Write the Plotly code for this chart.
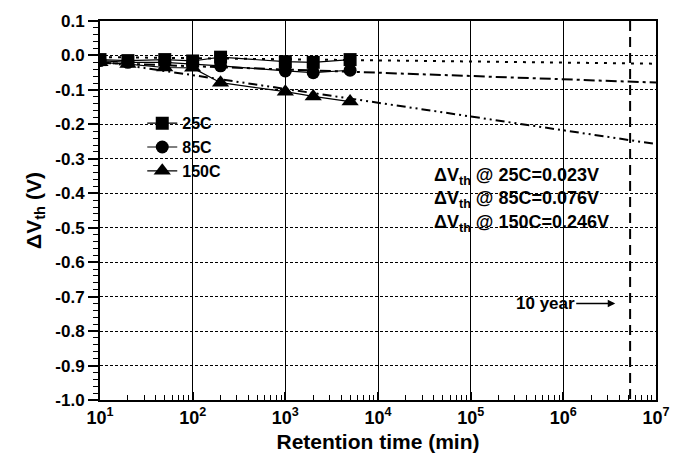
import numpy as np
import plotly.graph_objects as go

# Retention measurements
time_min = [10, 20, 50, 100, 200, 1000, 2000, 5000]
dvth_25c = [-0.012, -0.015, -0.012, -0.016, -0.005, -0.018, -0.020, -0.012]
dvth_85c = [-0.015, -0.020, -0.020, -0.025, -0.030, -0.045, -0.050, -0.043]
dvth_150c = [-0.020, -0.025, -0.035, -0.036, -0.079, -0.105, -0.119, -0.134]

series_names = ["25C", "85C", "150C"]
series_values = [dvth_25c, dvth_85c, dvth_150c]
marker_symbols = ["square", "circle", "triangle-up"]
marker_sizes = [13, 13, 15]

# Extrapolated shift at ten years and slope per decade of the fitted lines
ten_year_min = 10 * 365 * 24 * 60
shift_10yr = [-0.023, -0.076, -0.246]
slope_per_decade = [-0.0032, -0.0095, -0.040]
fit_dashes = ["3px,6px", "11px,4px,3px,4px", "9px,4px,2px,4px,2px,4px"]

y_ticks = [round(0.1 - 0.1 * i, 1) for i in range(12)]
y_ticktext = [f"{v:.1f}" if v != 0 else "0.0" for v in y_ticks]
x_ticks = [10 ** k for k in range(1, 8)]
x_ticktext = [f"10<sup>{k}</sup>" for k in range(1, 8)]

FONT = "Liberation Sans, Arial, Helvetica, sans-serif"

fig = go.Figure()

# fitted extrapolation lines
fit_span = [10, 1e7]
for v10, s, d in zip(shift_10yr, slope_per_decade, fit_dashes):
    ys = [v10 + s * (np.log10(t) - np.log10(ten_year_min)) for t in fit_span]
    fig.add_trace(go.Scatter(x=fit_span, y=ys, mode="lines",
                             line=dict(color="black", width=2, dash=d),
                             showlegend=False, hoverinfo="skip"))

# ten-year marker line
fig.add_trace(go.Scatter(x=[ten_year_min, ten_year_min], y=[0.1, -1.0], mode="lines",
                         line=dict(color="black", width=2, dash="10px,6px"),
                         showlegend=False, hoverinfo="skip"))

# measured data
for name, vals, sym, sz in zip(series_names, series_values, marker_symbols, marker_sizes):
    fig.add_trace(go.Scatter(x=time_min, y=vals, mode="lines+markers", name=name,
                             line=dict(color="black", width=1.2),
                             marker=dict(symbol=sym, size=sz, color="black")))

# ten-year annotations
ann_y = [-0.350, -0.418, -0.487]
for name, v10, ay in zip(series_names, shift_10yr, ann_y):
    fig.add_annotation(x=4.58, y=ay, xref="x", yref="y", xanchor="left",
                       text=f"ΔV<sub>th</sub> @ {name}={abs(v10):.3f}V",
                       showarrow=False, font=dict(size=18, color="black", family=FONT, weight="bold"))

fig.add_annotation(x=6.56, y=-0.72, xref="x", yref="y", text="10 year",
                   showarrow=True, ax=-70, ay=0, arrowhead=2, arrowsize=1, arrowwidth=1.5,
                   arrowcolor="black", standoff=0,
                   font=dict(size=17, color="black", family=FONT, weight="bold"))

fig.update_layout(
    width=688, height=462,
    margin=dict(l=100, r=32, t=14, b=61),
    paper_bgcolor="white", plot_bgcolor="white",
    font=dict(family=FONT, color="black", weight="bold"),
    legend=dict(x=0.076, y=0.775, xanchor="left", yanchor="top",
                bgcolor="rgba(0,0,0,0)", font=dict(size=16, family=FONT, weight="bold"),
                tracegroupgap=0, itemwidth=30),
    xaxis=dict(type="log", range=[1, 7], tickvals=x_ticks, ticktext=x_ticktext,
               ticks="inside", ticklen=8, tickwidth=1.5, tickcolor="black",
               minor=dict(ticks="inside", ticklen=5, tickwidth=1.2, tickcolor="black", dtick="D1", showgrid=False),
               showgrid=True, gridcolor="black", gridwidth=1,
               showline=True, linecolor="black", linewidth=2, mirror=True,
               tickfont=dict(size=18, family=FONT, weight="bold"),
               title=dict(text="Retention time (min)", font=dict(size=21, family=FONT, weight="bold"), standoff=8),
               zeroline=False),
    yaxis=dict(range=[-1.0, 0.1], tickvals=y_ticks, ticktext=y_ticktext,
               ticks="outside", ticklen=10, tickwidth=1.5, tickcolor="black",
               minor=dict(ticks="outside", ticklen=5, tickwidth=1.2, tickcolor="black", dtick=0.02, tick0=0, showgrid=False),
               showgrid=True, gridcolor="black", gridwidth=1, griddash="3px,2px",
               showline=True, linecolor="black", linewidth=2, mirror=True,
               tickfont=dict(size=17, family=FONT, weight="bold"),
               title=dict(text="ΔV<sub>th</sub> (V)", font=dict(size=21, family=FONT, weight="bold"), standoff=8),
               zeroline=False),
)

fig.write_html("out.html")
